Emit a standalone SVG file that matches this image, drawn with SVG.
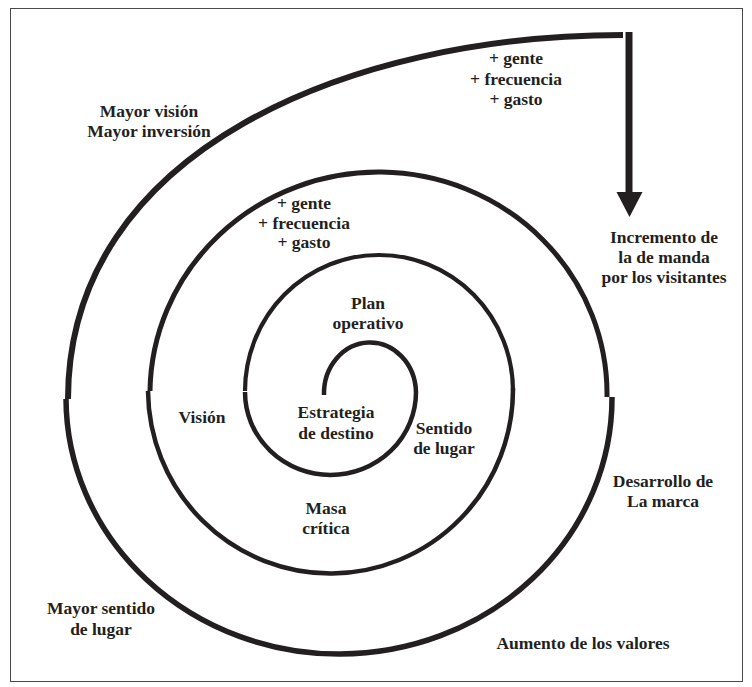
<svg xmlns="http://www.w3.org/2000/svg" width="752" height="687" viewBox="0 0 752 687">
<style>
.sp{fill:none;stroke:#231f20;stroke-linecap:butt}
.t{font-family:"Liberation Serif","Times New Roman",serif;font-weight:bold;font-size:17.5px;fill:#231f20;text-anchor:middle}
</style>
<rect x="0" y="0" width="752" height="687" fill="#ffffff"/>
<rect x="10.5" y="8.5" width="732" height="673" fill="none" stroke="#4a4a4a" stroke-width="1"/>
<g id="connectors">
<path class="sp" stroke-width="4.5" d="M324 395 A46 51 0 0 1 416 392"/>
<path class="sp" stroke-width="4.5" d="M416 392 A85.5 83 0 0 1 245 392"/>
<path class="sp" stroke-width="4.2" d="M245 391 A134 136 0 0 1 513 391"/>
<path class="sp" stroke-width="4.5" d="M513 388 A182.5 184 0 0 1 148 391"/>
<path class="sp" stroke-width="5" d="M150 391 A228.5 222 0 0 1 607 397"/>
<path class="sp" stroke-width="5.5" d="M612 397 A273 256 0 0 1 66 399"/>
<path class="sp" stroke-width="6" d="M68 399 C68 150 350 35 623 35"/>
<line x1="629" y1="32" x2="629" y2="194" stroke="#231f20" stroke-width="7"/>
<polygon points="616.5,192 642.5,192 629.5,217" fill="#231f20"/>
</g>
<g id="node-top-plus"><text class="t" x="516" y="64">+ gente</text><text class="t" x="516" y="84.5">+ frecuencia</text><text class="t" x="516" y="105">+ gasto</text></g>
<g id="node-mayor-vision"><text class="t" x="149" y="116.5">Mayor visión</text><text class="t" x="149" y="137">Mayor inversión</text></g>
<g id="node-inner-plus"><text class="t" x="304" y="208.5">+ gente</text><text class="t" x="304" y="228.5">+ frecuencia</text><text class="t" x="304" y="248">+ gasto</text></g>
<g id="node-incremento"><text class="t" x="664" y="243">Incremento de</text><text class="t" x="664" y="263">la de manda</text><text class="t" x="664" y="283">por los visitantes</text></g>
<g id="node-plan"><text class="t" x="368" y="309">Plan</text><text class="t" x="368" y="329">operativo</text></g>
<g id="node-vision"><text class="t" x="202" y="423">Visión</text></g>
<g id="node-estrategia"><text class="t" x="336" y="418">Estrategia</text><text class="t" x="336" y="439">de destino</text></g>
<g id="node-sentido"><text class="t" x="444" y="434">Sentido</text><text class="t" x="444" y="454">de lugar</text></g>
<g id="node-masa"><text class="t" x="326" y="514">Masa</text><text class="t" x="326" y="534">crítica</text></g>
<g id="node-desarrollo"><text class="t" x="663" y="487">Desarrollo de</text><text class="t" x="663" y="507">La marca</text></g>
<g id="node-mayor-sentido"><text class="t" x="101" y="614">Mayor sentido</text><text class="t" x="101" y="635">de lugar</text></g>
<g id="node-aumento"><text class="t" x="583" y="649">Aumento de los valores</text></g>
</svg>
